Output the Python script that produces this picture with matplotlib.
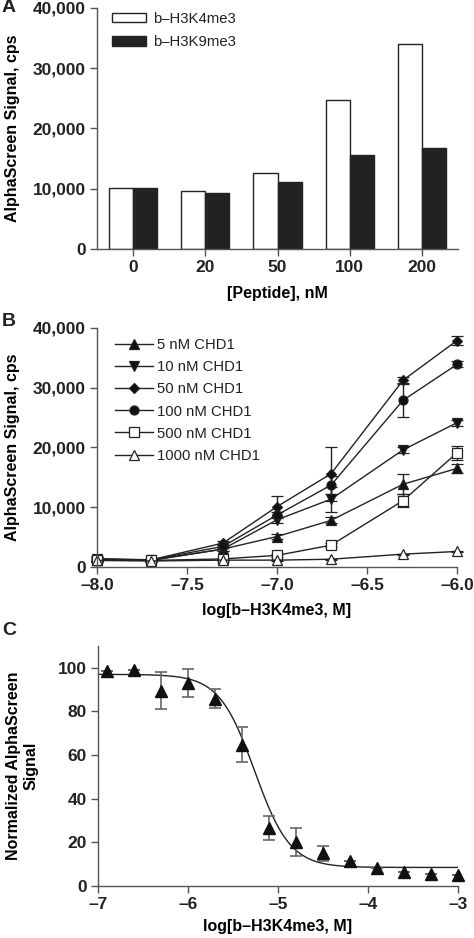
import numpy as np
import matplotlib
matplotlib.use("Agg")
import matplotlib.pyplot as plt
from matplotlib.ticker import FuncFormatter

plt.rcParams['font.family'] = ['Liberation Sans', 'DejaVu Sans']
plt.rcParams['axes.linewidth'] = 1.0
plt.rcParams['axes.edgecolor'] = '#555555'
plt.rcParams['xtick.color'] = '#555555'
plt.rcParams['ytick.color'] = '#555555'
plt.rcParams['xtick.labelcolor'] = '#222222'
plt.rcParams['ytick.labelcolor'] = '#222222'
plt.rcParams['text.color'] = '#222222'

# panel A data
peptide_conc = ['0', '20', '50', '100', '200']
h3k4me3 = [10050, 9650, 12600, 24800, 34050]
h3k9me3 = [10100, 9300, 11150, 15600, 16750]

# panel B data
log_b = [-8.0, -7.7, -7.3, -7.0, -6.7, -6.3, -6.0]
chd1_labels = ['5 nM CHD1', '10 nM CHD1', '50 nM CHD1', '100 nM CHD1', '500 nM CHD1', '1000 nM CHD1']
sig_5 = [1200, 1100, 3000, 5100, 7800, 13850, 16500]
err_5 = [300, 200, 300, 400, 500, 1700, 700]
sig_10 = [1300, 1150, 3000, 7900, 11350, 19600, 24150]
err_10 = [300, 200, 300, 500, 2100, 500, 500]
sig_50 = [1400, 1200, 4000, 10100, 15600, 31250, 37900]
err_50 = [500, 200, 300, 1700, 4500, 500, 800]
sig_100 = [1300, 1200, 3450, 8700, 13700, 27900, 33900]
err_100 = [300, 200, 300, 500, 1500, 2800, 500]
sig_500 = [1200, 1100, 1350, 1950, 3650, 11100, 19100]
err_500 = [200, 200, 200, 200, 300, 1100, 1200]
sig_1000 = [1100, 1000, 1150, 1150, 1300, 2150, 2600]
err_1000 = [100, 100, 100, 100, 100, 100, 100]

# panel C data
log_c = [-6.9, -6.6, -6.3, -6.0, -5.7, -5.4, -5.1, -4.8, -4.5, -4.2, -3.9, -3.6, -3.3, -3.0]
norm_sig = [98.5, 98.9, 89.6, 93.1, 85.9, 64.8, 26.5, 20.1, 15.0, 11.6, 8.1, 6.3, 5.4, 4.9]
norm_err = [0, 0, 8.4, 6.3, 4.4, 7.9, 5.6, 6.5, 3.5, 0, 0, 0, 0, 0]
# fitted dose-response curve parameters
fit_top = 97.0
fit_bottom = 8.5
fit_logic50 = -5.26
fit_hill = 2.2

W, H = 474, 938
fig = plt.figure(figsize=(W / 100, H / 100), dpi=100)


def box(left, top, right, bottom):
    return [left / W, 1 - bottom / H, (right - left) / W, (bottom - top) / H]


def figpt(xp, yp):
    return (xp / W, 1 - yp / H)


tick_fs = 12.5
label_fs = 11.5
leg_fs = 10.7
thousands = FuncFormatter(lambda v, p: f"{int(v):,}")
minus = FuncFormatter(lambda v, p: f"{v:.1f}".replace('-', '\u2013'))
minus_int = FuncFormatter(lambda v, p: f"{int(v)}".replace('-', '\u2013'))


def style(ax):
    ax.spines['top'].set_visible(False)
    ax.spines['right'].set_visible(False)
    ax.tick_params(direction='out', length=5, width=1, labelsize=tick_fs, pad=3)
    for t in ax.get_xticklabels() + ax.get_yticklabels():
        t.set_fontweight('bold')


# ---- panel A
axA = fig.add_axes(box(97, 8, 458, 249))
x = np.arange(len(peptide_conc))
bw = 0.333
axA.bar(x - bw / 2, h3k4me3, bw, color='white', edgecolor='#222222', linewidth=1, label='b\u2013H3K4me3')
axA.bar(x + bw / 2, h3k9me3, bw, color='#222222', edgecolor='#222222', linewidth=1, label='b\u2013H3K9me3')
axA.set_xlim(-0.5, 4.5)
axA.set_ylim(0, 40000)
axA.set_xticks(x)
axA.set_xticklabels(peptide_conc)
axA.set_yticks([0, 10000, 20000, 30000, 40000])
axA.yaxis.set_major_formatter(thousands)
axA.set_ylabel('AlphaScreen Signal, cps', fontsize=label_fs, fontweight='bold', labelpad=9)
axA.set_xlabel('[Peptide], nM', fontsize=label_fs, fontweight='bold', labelpad=8)
style(axA)
axA.legend(loc='upper left', bbox_to_anchor=figpt(112, 12), bbox_transform=fig.transFigure,
           frameon=False, fontsize=leg_fs, borderpad=0, borderaxespad=0,
           handlelength=2.3, handleheight=0.6, handletextpad=0.45, labelspacing=0.62)

# ---- panel B
axB = fig.add_axes(box(97, 328, 457, 567))
series = [
    (sig_5, err_5, '^', '#111111'),
    (sig_10, err_10, 'v', '#111111'),
    (sig_50, err_50, 'D', '#111111'),
    (sig_100, err_100, 'o', '#111111'),
    (sig_500, err_500, 's', 'white'),
    (sig_1000, err_1000, '^', 'white'),
]
for (sig, err, mk, fc), lab in zip(series, chd1_labels):
    ms = 5 if mk == 'D' else 6.5
    axB.errorbar(log_b, sig, yerr=err, color='#222222', marker=mk, markersize=ms,
                 markerfacecolor=fc, markeredgecolor='#222222', markeredgewidth=0.9,
                 linewidth=1, elinewidth=1, capsize=4, capthick=1, label=lab, clip_on=False)
axB.set_xlim(-8.0, -6.0)
axB.set_ylim(0, 40000)
axB.set_xticks([-8.0, -7.5, -7.0, -6.5, -6.0])
axB.xaxis.set_major_formatter(minus)
axB.set_yticks([0, 10000, 20000, 30000, 40000])
axB.yaxis.set_major_formatter(thousands)
axB.set_ylabel('AlphaScreen Signal, cps', fontsize=label_fs, fontweight='bold', labelpad=9)
axB.set_xlabel('log[b\u2013H3K4me3, M]', fontsize=label_fs, fontweight='bold', labelpad=7)
style(axB)
handles, labels = axB.get_legend_handles_labels()
handles = [h[0] for h in handles]
axB.legend(handles, labels, loc='upper left', bbox_to_anchor=figpt(115, 338),
           bbox_transform=fig.transFigure, frameon=False, fontsize=leg_fs,
           borderpad=0, borderaxespad=0, handlelength=2.55, handletextpad=0.25, labelspacing=0.55)

# ---- panel C
axC = fig.add_axes(box(98, 646, 458, 886))
xs = np.linspace(-7, -3, 300)
curve = fit_bottom + (fit_top - fit_bottom) / (1 + 10 ** ((xs - fit_logic50) * fit_hill))
axC.plot(xs, curve, color='#222222', linewidth=1)
axC.errorbar(log_c, norm_sig, yerr=norm_err, fmt='none', ecolor='#666666', elinewidth=1.2,
             capsize=4, capthick=1.2)
axC.plot(log_c, norm_sig, linestyle='none', marker='^', markersize=8, color='#111111', clip_on=False)
axC.set_xlim(-7, -3)
axC.set_ylim(0, 110)
axC.set_xticks([-7, -6, -5, -4, -3])
axC.xaxis.set_major_formatter(minus_int)
axC.set_yticks([0, 20, 40, 60, 80, 100])
axC.set_ylabel('Normalized AlphaScreen\nSignal', fontsize=label_fs, fontweight='bold', labelpad=14)
axC.set_xlabel('log[b\u2013H3K4me3, M]', fontsize=label_fs, fontweight='bold', labelpad=5)
style(axC)

# panel letters
for letter, ypix in [('A', 8), ('B', 322), ('C', 630)]:
    fig.text(2 / W, 1 - ypix / H, letter, fontsize=14, fontweight='bold', va='center', ha='left')

fig.savefig('out.png', dpi=100)
